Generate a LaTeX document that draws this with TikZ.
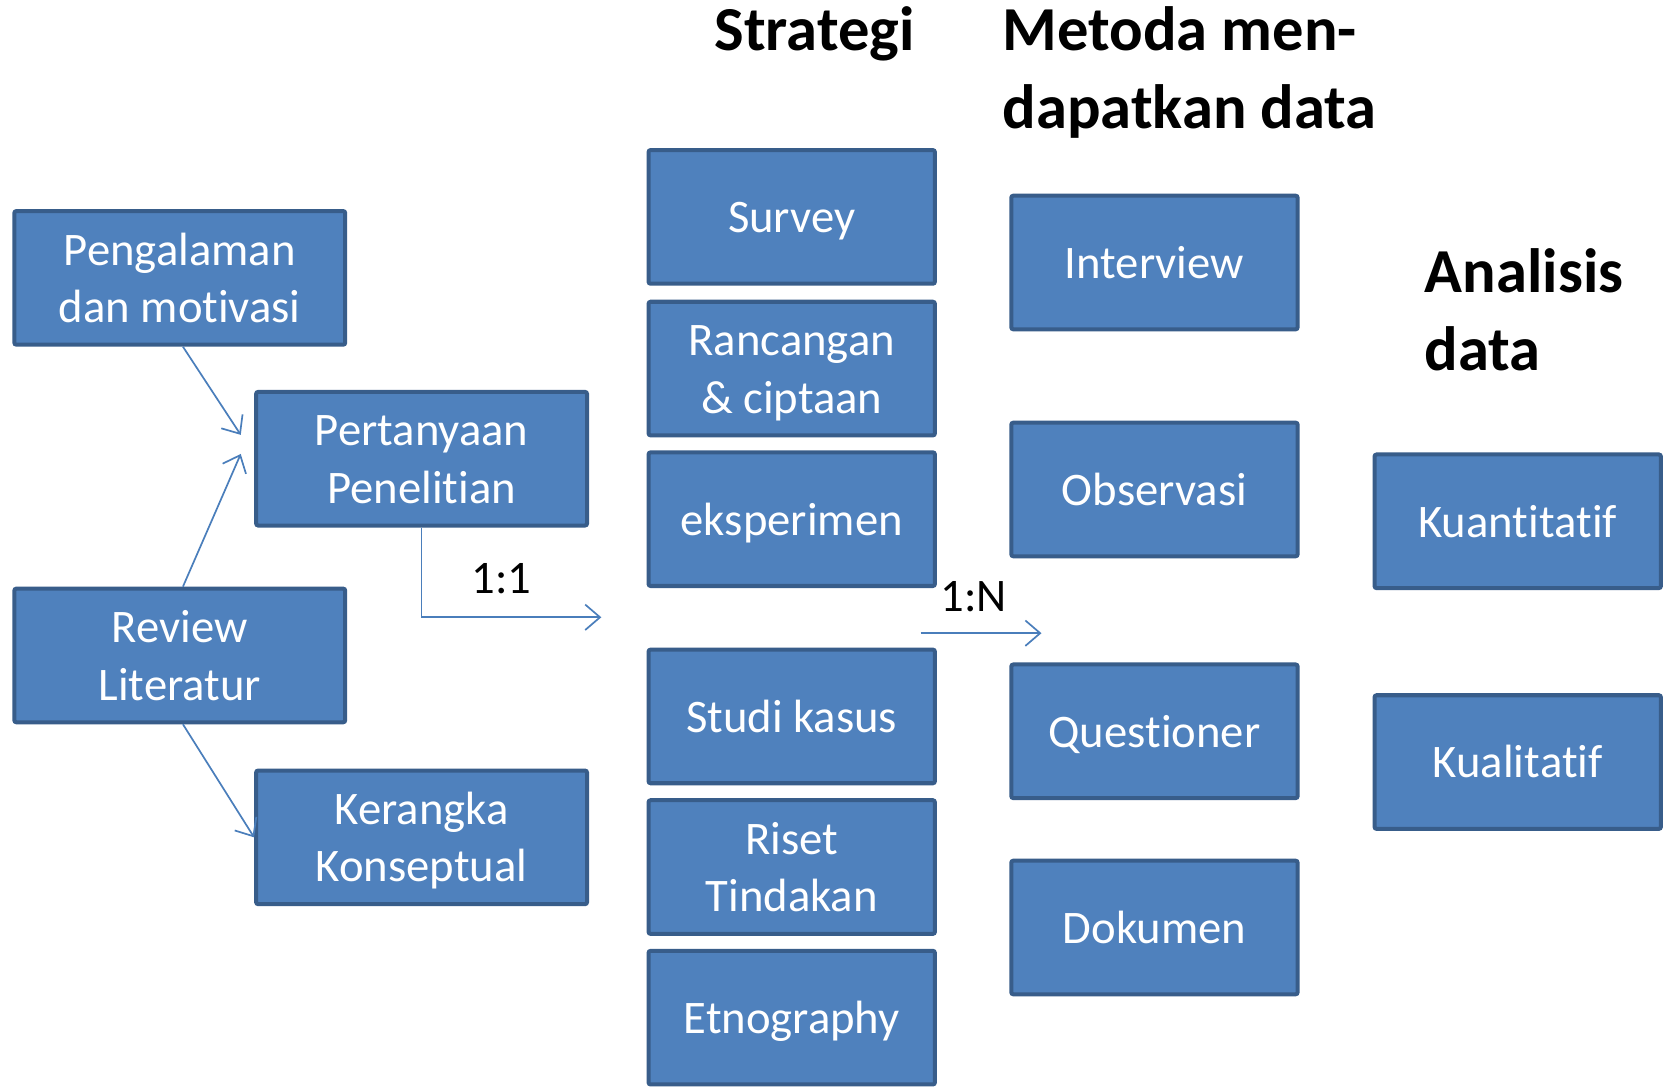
\documentclass[tikz,border=0pt]{standalone}
\usepackage{fontspec}
\setmainfont{Carlito}[Ligatures={NoCommon,NoContextual,NoRare},Contextuals={NoAlternate}]
\usetikzlibrary{arrows.meta}
\definecolor{boxfill}{HTML}{4F81BD}
\definecolor{boxline}{HTML}{385D8A}
\definecolor{arrcol}{HTML}{4A7EBB}
\newcommand\lnstrut{\rule[-5pt]{0pt}{25pt}}
\newcommand\nolig{\kern0pt{}}
\tikzset{
  box/.style={draw=boxline, fill=boxfill, line width=1.9pt, text=white,
    font=\fontsize{22}{27}\selectfont, align=center, inner sep=0pt,
    rounded corners=1pt},
  wide/.style={minimum width=156pt, minimum height=63pt},
  narrow/.style={minimum width=135pt, minimum height=63pt},
  heading/.style={font=\fontsize{29.5}{36}\selectfont\bfseries, inner sep=0pt, text=black},
  ratio/.style={font=\fontsize{22}{26}\selectfont, inner sep=0pt, text=black},
  arr/.style={draw=arrcol, line width=0.8pt, -{Straight Barb[length=7pt,width=12pt,line width=0.8pt]}}
}
\begin{document}
\begin{tikzpicture}[x=0.5pt,y=-0.5pt]
\useasboundingbox (0,0) rectangle (1568,1025);
\fill[white] (0,0) rectangle (1568,1025);
% left column
\node[box,wide] (peng) at (169.5,262) {\lnstrut Pengalaman\\\lnstrut dan mot\nolig ivasi};
\node[box,wide] (pert) at (397.5,432.5) {\lnstrut Pertanyaan\\\lnstrut Penelit\nolig ian};
\node[box,wide] (rev) at (169.5,618) {\lnstrut Review\\\lnstrut Literatur};
\node[box,wide] (ker) at (397.5,789.5) {\lnstrut Kerangka\\\lnstrut Konseptual};
% strategi column
\node[box,narrow] (survey) at (746.5,204.5) {\lnstrut Survey};
\node[box,narrow] (ranc) at (746.5,347.5) {\lnstrut Rancangan\\\lnstrut \& ciptaan};
\node[box,narrow] (eksp) at (746.5,489.5) {\lnstrut eksperimen};
\node[box,narrow] (studi) at (746.5,675.5) {\lnstrut Studi kasus};
\node[box,narrow] (riset) at (746.5,817.5) {\lnstrut Riset\\\lnstrut Tindakan};
\node[box,narrow] (etno) at (746.5,959.5) {\lnstrut Etnography};
% metoda column
\node[box,narrow] (inter) at (1088.5,247.5) {\lnstrut Interview};
\node[box,narrow] (obs) at (1088.5,461.5) {\lnstrut Observasi};
\node[box,narrow] (quest) at (1088.5,689.5) {\lnstrut Questioner};
\node[box,narrow] (dok) at (1088.5,874.5) {\lnstrut Dokumen};
% analisis column
\node[box,narrow] (kuan) at (1431,491.5) {\lnstrut Kuant\nolig it\nolig atif};
\node[box,narrow] (kual) at (1431,718.5) {\lnstrut Kualit\nolig atif};
% headings
\node[heading,anchor=base] (hstrat) at (768,48) {Strategi};
\node[heading,anchor=base west] (hmet1) at (945,48) {Metoda men-};
\node[heading,anchor=base west] (hmet2) at (945,121) {dapatkan data};
\node[heading,anchor=base west] (hana1) at (1343,276) {Analisis};
\node[heading,anchor=base west] (hana2) at (1343,349) {data};
% ratio labels
\node[ratio,anchor=base] (l11) at (473,560) {1:1};
\node[ratio,anchor=base] (l1n) at (918,577) {1:N};
% connector end points
\coordinate (e1) at (227,410);
\coordinate (e2) at (227,428);
\coordinate (c11) at (567,582);
\coordinate (s1n) at (868,597);
\coordinate (e1n) at (982,597);
% connectors
\draw[arr] ([xshift=1.5]peng.south) -- (e1);
\draw[arr] ([xshift=1.5]rev.north) -- (e2);
\draw[arr] ([xshift=1.5]rev.south) -- (ker.west);
\draw[arr] (pert.south) |- (c11);
\draw[arr] (s1n) -- (e1n);
\end{tikzpicture}
\end{document}
